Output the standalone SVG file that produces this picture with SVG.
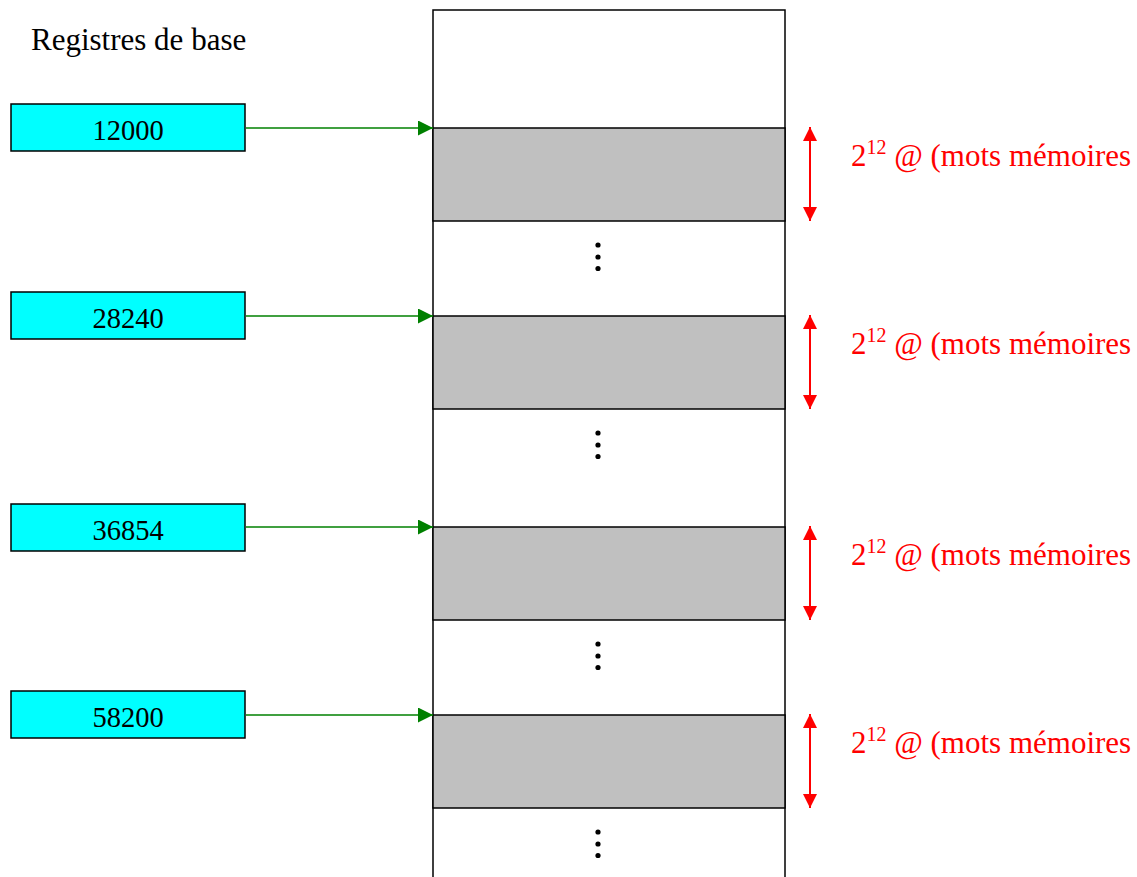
<svg xmlns="http://www.w3.org/2000/svg" width="1137" height="877" viewBox="0 0 1137 877">
  <style>
    .reg rect { fill: #00ffff; stroke: #000; stroke-width: 1.5; }
    .reg text { font-family: "Liberation Serif", serif; font-size: 28.5px; text-anchor: middle; fill: #000; }
    .seg { fill: #c0c0c0; stroke: #000; stroke-width: 1.5; }
    .ptr { stroke: #008000; stroke-width: 1.5; fill: none; marker-end: url(#gh); }
    .size { stroke: #ff0000; stroke-width: 2; marker-start: url(#rh); marker-end: url(#rh); }
    .lbl { font-family: "Liberation Serif", serif; font-size: 31px; fill: #ff0000; }
    .dot { fill: #000; }
  </style>
  <defs>
    <marker id="gh" viewBox="0 0 10 10" refX="10" refY="5" markerWidth="15" markerHeight="15" markerUnits="userSpaceOnUse" orient="auto" preserveAspectRatio="none">
      <path d="M0,0 L10,5 L0,10 Z" fill="#008000"/>
    </marker>
    <marker id="rh" viewBox="0 0 10 10" refX="10" refY="5" markerWidth="14" markerHeight="14" markerUnits="userSpaceOnUse" orient="auto-start-reverse" preserveAspectRatio="none">
      <path d="M0,0 L10,5 L0,10 Z" fill="#ff0000"/>
    </marker>
  </defs>

  <rect width="1137" height="877" fill="#fff"/>

  <text x="31" y="50" font-family="Liberation Serif, serif" font-size="31px" fill="#000">Registres de base</text>

  <!-- memory column -->
  <g id="memory">
    <rect x="433" y="10" width="352" height="880" fill="#fff" stroke="#000" stroke-width="1.5"/>
    <rect class="seg" x="433" y="128" width="352" height="93"/>
    <rect class="seg" x="433" y="316" width="352" height="93"/>
    <rect class="seg" x="433" y="527" width="352" height="93"/>
    <rect class="seg" x="433" y="715" width="352" height="93"/>
    <g class="dots">
      <circle class="dot" cx="598" cy="245" r="2.6"/><circle class="dot" cx="598" cy="257" r="2.6"/><circle class="dot" cx="598" cy="268.5" r="2.6"/>
      <circle class="dot" cx="598" cy="433" r="2.6"/><circle class="dot" cx="598" cy="445" r="2.6"/><circle class="dot" cx="598" cy="456.5" r="2.6"/>
      <circle class="dot" cx="598" cy="644" r="2.6"/><circle class="dot" cx="598" cy="656" r="2.6"/><circle class="dot" cx="598" cy="667.5" r="2.6"/>
      <circle class="dot" cx="598" cy="832" r="2.6"/><circle class="dot" cx="598" cy="844" r="2.6"/><circle class="dot" cx="598" cy="855.5" r="2.6"/>
    </g>
  </g>

  <!-- base registers -->
  <g id="reg1" class="reg"><rect x="11" y="104" width="234" height="47"/><text x="128" y="140">12000</text></g>
  <g id="reg2" class="reg"><rect x="11" y="292" width="234" height="47"/><text x="128" y="328">28240</text></g>
  <g id="reg3" class="reg"><rect x="11" y="504" width="234" height="47"/><text x="128" y="540">36854</text></g>
  <g id="reg4" class="reg"><rect x="11" y="691" width="234" height="47"/><text x="128" y="727">58200</text></g>

  <!-- connectors -->
  <g id="connectors">
    <line class="ptr" x1="246" y1="128" x2="433" y2="128"/>
    <line class="ptr" x1="246" y1="316" x2="433" y2="316"/>
    <line class="ptr" x1="246" y1="527" x2="433" y2="527"/>
    <line class="ptr" x1="246" y1="715" x2="433" y2="715"/>
    <line class="size" x1="810" y1="127" x2="810" y2="221"/>
    <line class="size" x1="810" y1="315" x2="810" y2="409"/>
    <line class="size" x1="810" y1="526" x2="810" y2="620"/>
    <line class="size" x1="810" y1="714" x2="810" y2="808"/>
  </g>

  <!-- segment size labels -->
  <g id="labels">
    <text class="lbl" x="851" y="166">2<tspan font-size="20px" dy="-12">12</tspan><tspan dy="12"> @ (mots mémoires</tspan></text>
    <text class="lbl" x="851" y="354">2<tspan font-size="20px" dy="-12">12</tspan><tspan dy="12"> @ (mots mémoires</tspan></text>
    <text class="lbl" x="851" y="565">2<tspan font-size="20px" dy="-12">12</tspan><tspan dy="12"> @ (mots mémoires</tspan></text>
    <text class="lbl" x="851" y="753">2<tspan font-size="20px" dy="-12">12</tspan><tspan dy="12"> @ (mots mémoires</tspan></text>
  </g>
</svg>
